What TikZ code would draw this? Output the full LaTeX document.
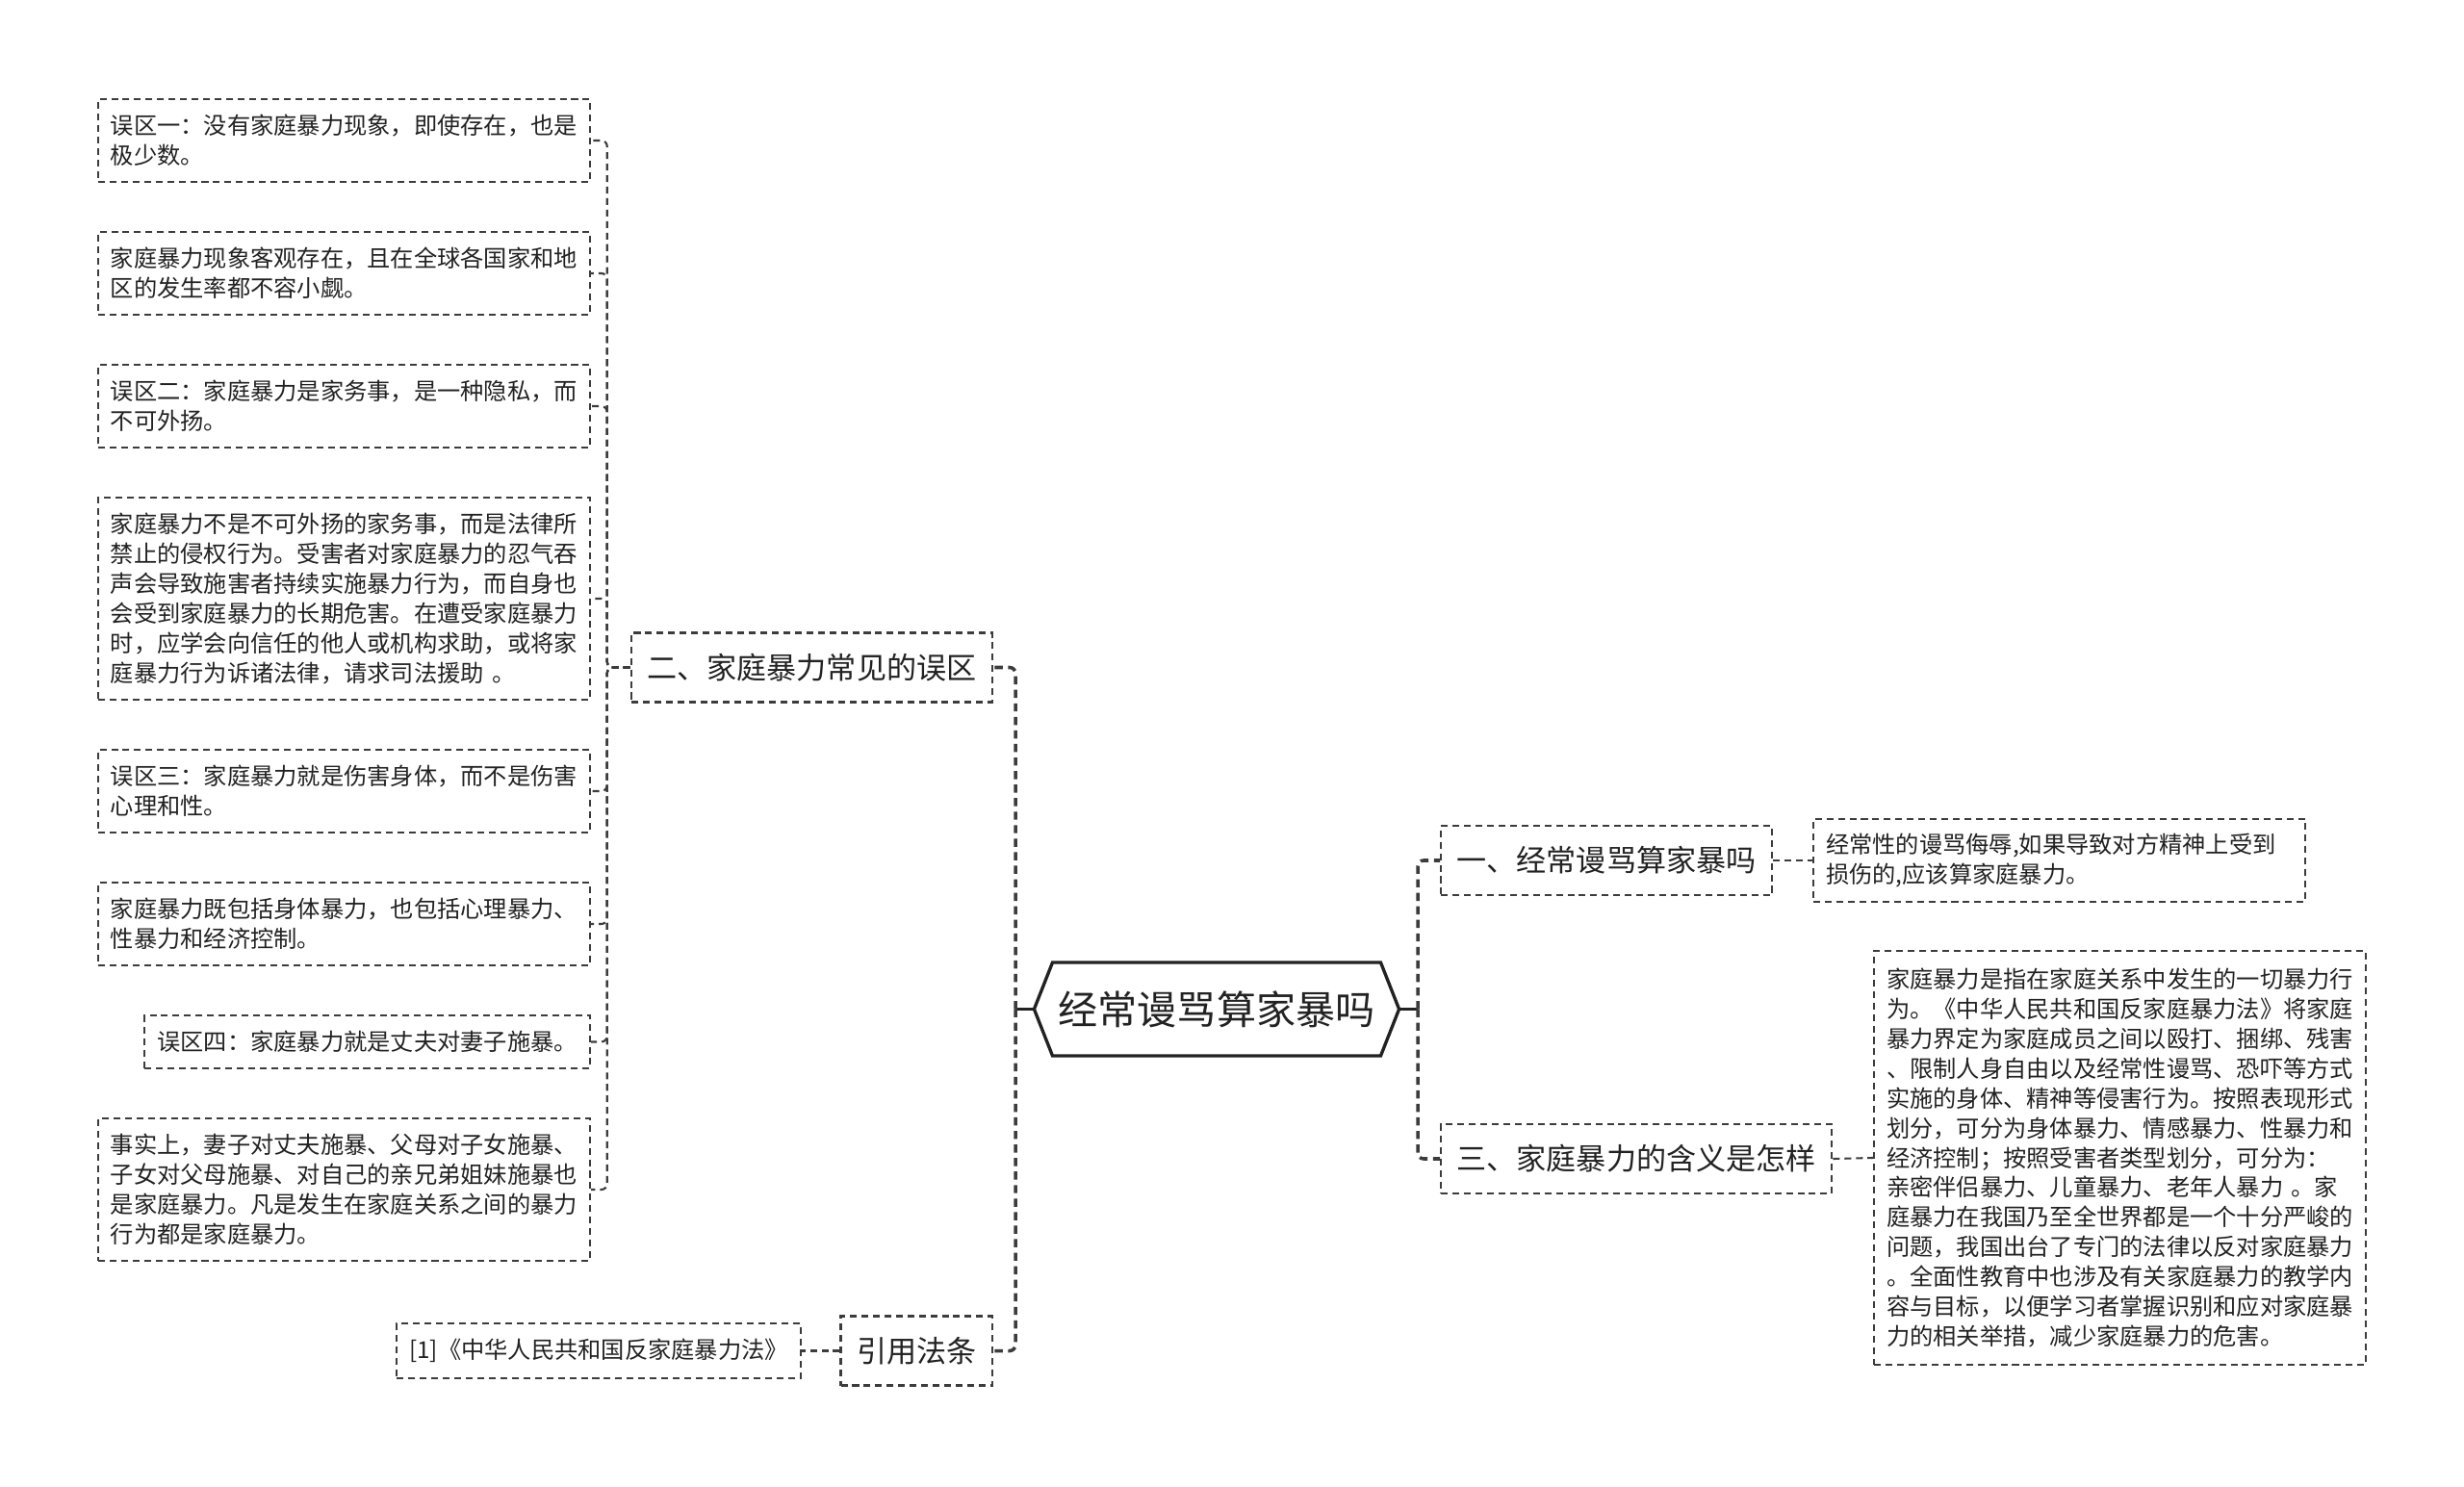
\documentclass[tikz,border=0pt]{standalone}
\usepackage{xcolor}
\usepackage{fontspec}
\setmainfont{Noto Sans CJK SC}
\usepackage{tikz}
\usetikzlibrary{shapes.symbols, positioning, calc}
\definecolor{mydark}{RGB}{34,34,34}
\definecolor{mygray}{RGB}{60,60,60}
\tikzset{
  rootnode/.style={signal, signal to=west and east, signal pointer angle=137,
    draw=mydark, line width=0.95pt, minimum height=0.97cm,
    inner xsep=0.06cm, inner ysep=0pt, text=mydark,
    font=\fontsize{11.7pt}{14pt}\selectfont},
  branchnode/.style={rectangle, draw=mygray, line width=0.6pt,
    dash pattern=on 2pt off 1.4pt, minimum height=0.72cm,
    inner xsep=0.165cm, inner ysep=0pt, text=mydark,
    font=\fontsize{8.85pt}{10pt}\selectfont},
  leafnode/.style={rectangle, draw=mygray, line width=0.6pt,
    dash pattern=on 2pt off 1.4pt, inner xsep=0.13cm, inner ysep=0pt,
    align=left, text=mydark, font=\fontsize{6.9pt}{8.8pt}\selectfont},
  wideleaf/.style={leafnode, text width=4.85cm},
  link/.style={draw=mygray, line width=0.6pt, dash pattern=on 2pt off 1.4pt,
    rounded corners=0.06cm},
  trunk/.style={draw=mygray, line width=1pt, dash pattern=on 2.4pt off 1.6pt,
    rounded corners=0.06cm},
  rootlink/.style={draw=mydark, line width=1pt}
}
\begin{document}
\begin{tikzpicture}
  \fill[white] (0,0) rectangle (25.6,-15.45);
  \useasboundingbox (0,0) rectangle (25.6,-15.45);

  % centre
  \node[rootnode] (root) at (12.64,-10.485) {经常谩骂算家暴吗};
  \coordinate (ltrunk) at (10.55,-10.485);
  \coordinate (rtrunk) at (14.73,-10.485);

  % left side
  \node[branchnode, anchor=east] (myth) at (10.32,-6.935) {二、家庭暴力常见的误区};
  \node[branchnode, anchor=east] (cite) at (10.32,-14.035) {引用法条};
  \node[leafnode, anchor=east, minimum height=0.57cm] (law) at (8.33,-14.035) {[1]《中华人民共和国反家庭暴力法》};

  \node[wideleaf, anchor=east, minimum height=0.86cm] (m1) at (6.14,-1.46)
    {误区一：没有家庭暴力现象，即使存在，也是\\极少数。};
  \node[wideleaf, anchor=east, minimum height=0.86cm] (m2) at (6.14,-2.84)
    {家庭暴力现象客观存在，且在全球各国家和地\\区的发生率都不容小觑。};
  \node[wideleaf, anchor=east, minimum height=0.86cm] (m3) at (6.14,-4.22)
    {误区二：家庭暴力是家务事，是一种隐私，而\\不可外扬。};
  \node[wideleaf, anchor=east, minimum height=2.10cm] (m4) at (6.14,-6.22)
    {家庭暴力不是不可外扬的家务事，而是法律所\\禁止的侵权行为。受害者对家庭暴力的忍气吞\\声会导致施害者持续实施暴力行为，而自身也\\会受到家庭暴力的长期危害。在遭受家庭暴力\\时，应学会向信任的他人或机构求助，或将家\\庭暴力行为诉诸法律，请求司法援助 。};
  \node[wideleaf, anchor=east, minimum height=0.86cm] (m5) at (6.14,-8.22)
    {误区三：家庭暴力就是伤害身体，而不是伤害\\心理和性。};
  \node[wideleaf, anchor=east, minimum height=0.86cm] (m6) at (6.14,-9.60)
    {家庭暴力既包括身体暴力，也包括心理暴力、\\性暴力和经济控制。};
  \node[leafnode, anchor=east, minimum height=0.55cm] (m7) at (6.14,-10.825)
    {误区四：家庭暴力就是丈夫对妻子施暴。};
  \node[wideleaf, anchor=east, minimum height=1.48cm] (m8) at (6.14,-12.36)
    {事实上，妻子对丈夫施暴、父母对子女施暴、\\子女对父母施暴、对自己的亲兄弟姐妹施暴也\\是家庭暴力。凡是发生在家庭关系之间的暴力\\行为都是家庭暴力。};

  % right side
  \node[branchnode, anchor=west] (q1) at (14.96,-8.94) {一、经常谩骂算家暴吗};
  \node[wideleaf, anchor=west, minimum height=0.86cm] (a1) at (18.83,-8.94)
    {经常性的谩骂侮辱,如果导致对方精神上受到\\损伤的,应该算家庭暴力。};
  \node[branchnode, anchor=west] (q3) at (14.96,-12.04) {三、家庭暴力的含义是怎样};
  \node[wideleaf, anchor=west, minimum height=4.30cm] (a3) at (19.46,-12.03)
    {家庭暴力是指在家庭关系中发生的一切暴力行\\为。《中华人民共和国反家庭暴力法》将家庭\\暴力界定为家庭成员之间以殴打、捆绑、残害\\、限制人身自由以及经常性谩骂、恐吓等方式\\实施的身体、精神等侵害行为。按照表现形式\\划分，可分为身体暴力、情感暴力、性暴力和\\经济控制；按照受害者类型划分，可分为：\\亲密伴侣暴力、儿童暴力、老年人暴力 。家\\庭暴力在我国乃至全世界都是一个十分严峻的\\问题，我国出台了专门的法律以反对家庭暴力\\。全面性教育中也涉及有关家庭暴力的教学内\\容与目标，以便学习者掌握识别和应对家庭暴\\力的相关举措，减少家庭暴力的危害。};

  % connectors
  \draw[rootlink] (root.west) -- (ltrunk);
  \draw[rootlink] (root.east) -- (rtrunk);
  \draw[trunk] (ltrunk) |- (myth.east);
  \draw[trunk] (ltrunk) |- (cite.east);
  \draw[trunk] (rtrunk) |- (q1.west);
  \draw[trunk] (rtrunk) |- (q3.west);
  \foreach \m in {m1,m2,m3,m4,m5,m6,m7,m8}
    \draw[link] (myth.west) -- ++(-0.24,0) |- (\m.east);
  \draw[link] (cite.west) -- (law.east);
  \draw[link] (q1.east) -- (a1.west);
  \draw[link] (q3.east) -- (a3.west);
\end{tikzpicture}
\end{document}
